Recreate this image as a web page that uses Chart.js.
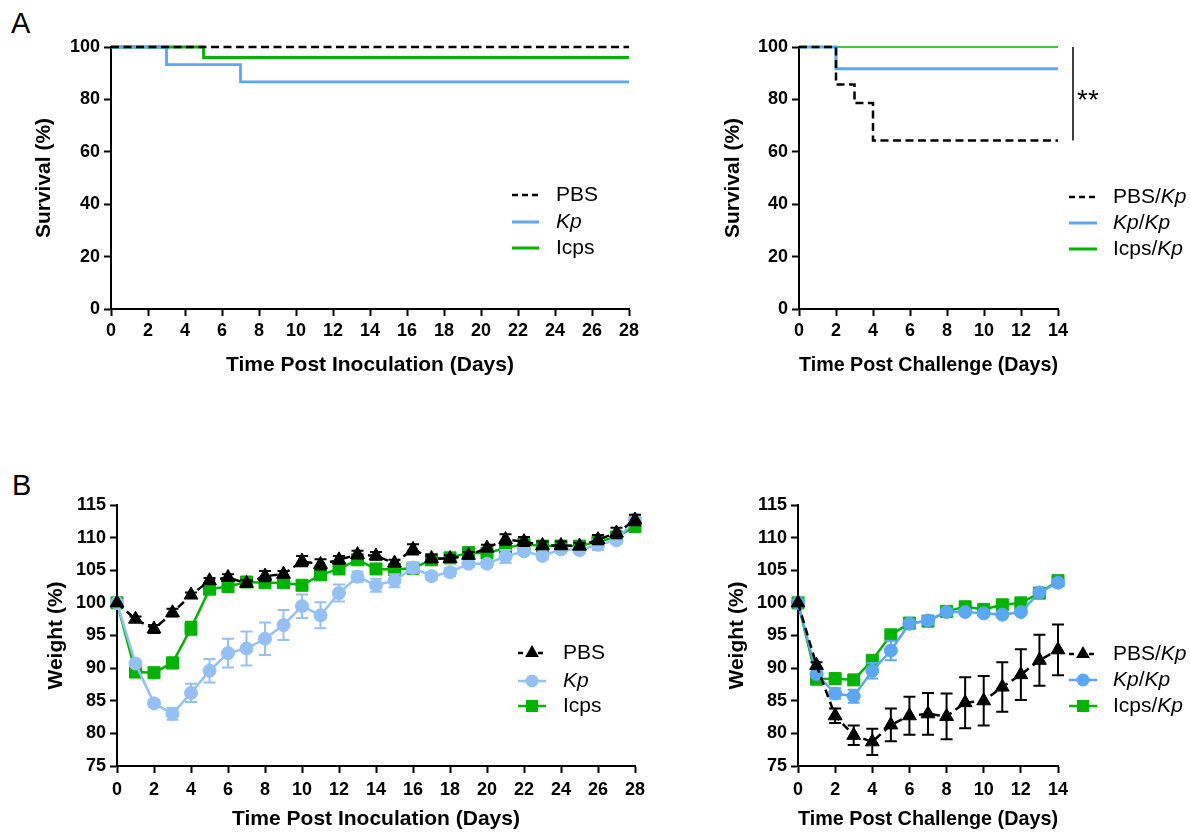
<!DOCTYPE html>
<html><head><meta charset="utf-8">
<script src="https://cdn.jsdelivr.net/npm/chart.js@4.4.1/dist/chart.umd.min.js"></script>
<style>
html,body{margin:0;padding:0;background:#fff;}
body{width:1190px;height:833px;overflow:hidden;position:relative;font-family:"Liberation Sans",Arial,Helvetica,sans-serif;}
canvas{position:absolute;}
.lbl{position:absolute;font-size:29px;line-height:29px;color:#000;}
</style></head><body>
<div class="lbl" style="left:11px;top:9px">A</div>
<div class="lbl" style="left:12px;top:471px">B</div>
<canvas id="cTL"></canvas>
<canvas id="cTR"></canvas>
<canvas id="cBL"></canvas>
<canvas id="cBR"></canvas>
<script>
// ---------- DATA ----------
// A, left: survival after inoculation (days, % survival)
const survDaysPBS = [0, 28];
const survPBS     = [100, 100];
const survDaysKp  = [0, 3, 7, 28];
const survKp      = [100, 93.3, 86.7, 86.7];
const survDaysIcps = [0, 5, 28];
const survIcps     = [100, 96, 96];
// A, right: survival after challenge
const chalDaysPBS = [0, 2, 3, 4, 14];
const chalPBS     = [100, 85.7, 78.6, 64.3, 64.3];
const chalDaysKp  = [0, 2, 14];
const chalKp      = [100, 91.7, 91.7];
const chalDaysIcps = [0, 14];
const chalIcps     = [100, 100];
const sigRange = [100, 64.3];
const sigLabel = '**';
// B, left: weight after inoculation
const inocDays = [0,1,2,3,4,5,6,7,8,9,10,11,12,13,14,15,16,17,18,19,20,21,22,23,24,25,26,27,28];
const wPBS    = [100,97.5,96.0,98.5,101.2,103.4,103.9,103.0,104.1,104.4,106.4,105.9,106.6,107.4,107.2,106.1,108.2,106.8,106.8,107.3,108.4,109.7,109.4,108.8,108.8,108.7,109.7,110.7,112.7];
const wPBSerr = [0,0.4,0.6,0.6,0.4,0.4,0.5,0.5,0.8,0.5,0.8,0.8,0.6,0.6,0.6,0.5,0.8,0.6,0.5,0.5,0.5,0.8,0.7,0.6,0.6,0.5,0.7,0.8,0.8];
const wKp     = [100,90.7,84.6,83.0,86.2,89.6,92.3,93.0,94.5,96.6,99.5,98.1,101.5,104.0,102.7,103.4,105.4,104.1,104.7,106.0,106.0,107.1,107.9,107.2,108.2,108.1,108.9,109.6,112.8];
const wKperr  = [0,0.4,0.5,0.9,1.4,1.8,2.2,2.6,2.5,2.3,1.8,2.0,1.3,0.8,1.0,1.0,0.8,0.6,0.6,0.5,0.5,1.0,0.5,0.5,0.5,0.5,0.8,0.5,0.5];
const wIcps   = [100,89.4,89.3,90.8,96.1,102.1,102.5,103.2,103.1,103.1,102.7,104.3,105.2,106.6,105.2,105.1,105.3,106.6,106.9,107.7,107.6,108.4,109.0,108.7,108.7,108.7,109.4,110.1,111.7];
const wIcpserr= [0,0.4,0.5,0.8,1.0,0.4,0.4,0.4,0.4,0.4,0.5,0.4,0.4,0.5,0.5,0.5,0.5,0.4,0.4,0.4,0.4,0.4,0.4,0.4,0.4,0.4,0.4,0.4,0.5];
// B, right: weight after challenge
const chalWDays = [0,1,2,3,4,5,6,7,8,9,10,11,12,13,14];
const cwPBS     = [100,90.4,82.7,79.7,78.7,81.3,82.7,83.0,82.6,84.7,85.0,87.1,89.0,91.2,92.8];
const cwPBSerr  = [0,0.5,1.1,1.5,2.0,2.5,2.9,3.2,3.5,3.9,3.8,3.8,3.9,3.9,3.9];
const cwKp      = [100,89.1,86.1,85.7,89.6,92.7,96.8,97.3,98.6,98.6,98.4,98.2,98.6,101.6,103.1];
const cwKperr   = [0,0.4,0.8,1.0,1.2,1.5,0.5,0.6,0.4,0.3,0.3,0.3,0.3,0.3,0.3];
const cwIcps    = [100,88.3,88.4,88.2,91.2,95.1,96.9,97.2,98.7,99.4,99.0,99.7,100.0,101.5,103.4];
const cwIcpserr = [0,0.4,0.5,0.5,0.6,0.5,0.4,0.4,0.4,0.3,0.3,0.3,0.3,0.3,0.3];

// ---------- STYLE ----------
const FONT = '"Liberation Sans", Arial, Helvetica, sans-serif';
const BLACK = '#000000';
const BLUE = '#5aa6f7';
const BLUE_LIGHT = '#93c0f6';
const GREEN = '#00b400';

function pts(xs, ys){ return xs.map((x,i)=>({x:x, y:ys[i]})); }

function drawMarker(ctx, type, x, y, color){
  ctx.save();
  ctx.fillStyle = color;
  ctx.beginPath();
  if (type === 'triangle'){
    const r = 8;
    ctx.moveTo(x, y - r);
    ctx.lineTo(x + r*Math.sin(2*Math.PI/3), y - r*Math.cos(2*Math.PI/3));
    ctx.lineTo(x - r*Math.sin(2*Math.PI/3), y - r*Math.cos(2*Math.PI/3));
    ctx.closePath();
  } else if (type === 'circle'){
    ctx.arc(x, y, 6.5, 0, Math.PI*2);
  } else if (type === 'rect'){
    ctx.rect(x-6, y-6, 12, 12);
  }
  ctx.fill();
  ctx.restore();
}

const errorBars = {
  id:'errorBars',
  beforeDatasetDraw(chart, args){
    const ds = chart.data.datasets[args.index];
    if(!ds.errors) return;
    const xs = chart.scales.x, ys = chart.scales.y, ctx = chart.ctx;
    ctx.save();
    ctx.strokeStyle = ds.borderColor;
    ctx.lineWidth = 2;
    ctx.setLineDash([]);
    ds.data.forEach((p,i)=>{
      const e = ds.errors[i]; if(!e) return;
      const px = xs.getPixelForValue(p.x);
      const y1 = ys.getPixelForValue(p.y + e), y2 = ys.getPixelForValue(p.y - e);
      ctx.beginPath();
      ctx.moveTo(px,y1); ctx.lineTo(px,y2);
      ctx.moveTo(px-6,y1); ctx.lineTo(px+6,y1);
      ctx.moveTo(px-6,y2); ctx.lineTo(px+6,y2);
      ctx.stroke();
    });
    ctx.restore();
  }
};

const EXTRAS = {};
const overlays = {
  id:'overlays',
  afterDraw(chart){
    const ex = EXTRAS[chart.canvas.id]; if(!ex) return;
    const ctx = chart.ctx;
    ctx.save();
    ctx.translate(-ex.left, -ex.top);
    const L = ex.legend;
    L.items.forEach((it,k)=>{
      const y = L.ys[k];
      ctx.strokeStyle = it.color; ctx.lineWidth = it.width;
      ctx.setLineDash(it.dash || []);
      ctx.beginPath(); ctx.moveTo(L.x0, y); ctx.lineTo(L.x1, y); ctx.stroke();
      ctx.setLineDash([]);
      if (it.marker) drawMarker(ctx, it.marker, (L.x0+L.x1)/2, y, it.color);
      let tx = L.tx;
      ctx.fillStyle = '#000'; ctx.textBaseline = 'middle'; ctx.textAlign = 'left';
      it.text.forEach(([s, ital])=>{
        ctx.font = (ital ? 'italic ' : '') + '21px ' + FONT;
        ctx.fillText(s, tx, y);
        tx += ctx.measureText(s).width;
      });
    });
    ctx.restore();
    if (ex.sig){
      const ys = chart.scales.y, ca = chart.chartArea;
      const sx = ca.right + 15;
      ctx.save();
      ctx.strokeStyle = '#000'; ctx.lineWidth = 1.5;
      ctx.beginPath();
      ctx.moveTo(sx, ys.getPixelForValue(ex.sig.range[0]));
      ctx.lineTo(sx, ys.getPixelForValue(ex.sig.range[1]));
      ctx.stroke();
      ctx.fillStyle = '#000'; ctx.font = '28px ' + FONT;
      ctx.textBaseline = 'alphabetic'; ctx.textAlign = 'left';
      const mid = ys.getPixelForValue((ex.sig.range[0]+ex.sig.range[1])/2);
      ctx.fillText(ex.sig.label, sx + 4, mid + 15);
      ctx.restore();
    }
  }
};

function makeChart(id, cfg){
  const el = document.getElementById(id);
  el.width = cfg.w; el.height = cfg.h;
  el.style.width = cfg.w + 'px'; el.style.height = cfg.h + 'px';
  el.style.left = cfg.left + 'px'; el.style.top = cfg.top + 'px';
  EXTRAS[id] = {left: cfg.left, top: cfg.top, legend: cfg.legend, sig: cfg.sig};
  const tickFont = {family: FONT, size: 18, weight: 'bold'};
  const titleFont = {family: FONT, size: 21, weight: 'bold'};
  const grid = {display:true, drawOnChartArea:false, drawTicks:true, tickLength:7, tickWidth:2, tickColor:'#000'};
  const border = {display:true, color:'#000', width:2};
  return new Chart(el, {
    type: 'line',
    data: {datasets: cfg.datasets},
    plugins: [errorBars, overlays],
    options: {
      responsive: false, animation: false, events: [],
      devicePixelRatio: 1,
      layout: {autoPadding: false, padding: {top: cfg.padTop, right: cfg.padRight, left: 0, bottom: 0}},
      plugins: {legend: {display: false}, tooltip: {enabled: false}},
      scales: {
        x: {
          type: 'linear', min: 0, max: cfg.xMax,
          ticks: {stepSize: 2, autoSkip: false, maxRotation: 0, color: '#000', font: tickFont, padding: cfg.xTickPad},
          grid: grid, border: border,
          title: {display: true, text: cfg.xTitle, color: '#000', font: titleFont, padding: {top: 0, bottom: cfg.xTitlePad}},
          afterFit(s){ s.height = cfg.xh; }
        },
        y: {
          type: 'linear', min: cfg.yMin, max: cfg.yMax,
          ticks: {stepSize: cfg.yStep, color: '#000', font: tickFont, padding: 4},
          grid: grid, border: border,
          title: {display: true, text: cfg.yTitle, color: '#000', font: titleFont, padding: {top: cfg.yTitlePad, bottom: 0}},
          afterFit(s){ s.width = cfg.yw; }
        }
      }
    }
  });
}

function survSet(label, xs, ys, color, width, dash){
  return {label, data: pts(xs, ys), borderColor: color, backgroundColor: color, borderWidth: width,
          borderDash: dash || [], stepped: 'before', pointRadius: 0, fill: false, clip: false};
}
function weightSet(label, xs, ys, errs, color, style, radius, dash){
  return {label, data: pts(xs, ys), errors: errs, borderColor: color, backgroundColor: color,
          borderWidth: 2.5, borderDash: dash || [], pointStyle: style, pointRadius: radius,
          pointBackgroundColor: color, pointBorderColor: color, pointBorderWidth: 1, fill: false, clip: false};
}

// Panel A left
makeChart('cTL', {
  left: 0, top: 0, w: 649, h: 379, yw: 111, xh: 70, padTop: 47, padRight: 20,
  xMax: 28, yMin: 0, yMax: 100, yStep: 20, xTickPad: 4, xTitlePad: 1.4, yTitlePad: 31.4,
  xTitle: 'Time Post Inoculation (Days)', yTitle: 'Survival (%)',
  datasets: [
    survSet('PBS', survDaysPBS, survPBS, BLACK, 2.5, [8,4.5]),
    survSet('Kp', survDaysKp, survKp, BLUE, 2.8),
    survSet('Icps', survDaysIcps, survIcps, GREEN, 2.8)
  ],
  legend: {x0: 512, x1: 539, tx: 556, ys: [195, 222, 248], items: [
    {color: BLACK, width: 2.5, dash: [6,4], text: [['PBS', false]]},
    {color: BLUE, width: 3, text: [['Kp', true]]},
    {color: GREEN, width: 3, text: [['Icps', false]]}
  ]}
});

// Panel A right
makeChart('cTR', {
  left: 688, top: 0, w: 502, h: 379, yw: 111, xh: 70, padTop: 47, padRight: 132,
  xMax: 14, yMin: 0, yMax: 100, yStep: 20, xTickPad: 4, xTitlePad: 1.4, yTitlePad: 32.4,
  xTitle: 'Time Post Challenge (Days)', yTitle: 'Survival (%)',
  datasets: [
    survSet('PBS/Kp', chalDaysPBS, chalPBS, BLACK, 2.5, [8,4.5]),
    survSet('Kp/Kp', chalDaysKp, chalKp, BLUE, 3),
    survSet('Icps/Kp', chalDaysIcps, chalIcps, GREEN, 1.5)
  ],
  legend: {x0: 1069, x1: 1097, tx: 1113, ys: [197, 223, 249], items: [
    {color: BLACK, width: 2.5, dash: [6,4], text: [['PBS/', false], ['Kp', true]]},
    {color: BLUE, width: 3, text: [['Kp', true], ['/', false], ['Kp', true]]},
    {color: GREEN, width: 3, text: [['Icps/', false], ['Kp', true]]}
  ]},
  sig: {range: sigRange, label: sigLabel}
});

// Panel B left
makeChart('cBL', {
  left: 6, top: 460, w: 659, h: 373, yw: 111, xh: 67, padTop: 45, padRight: 30,
  xMax: 28, yMin: 75, yMax: 115, yStep: 5, xTickPad: 6, xTitlePad: 1.4, yTitlePad: 37.4,
  xTitle: 'Time Post Inoculation (Days)', yTitle: 'Weight (%)',
  datasets: [
    weightSet('PBS', inocDays, wPBS, wPBSerr, BLACK, 'triangle', 8, [8,5]),
    weightSet('Kp', inocDays, wKp, wKperr, BLUE_LIGHT, 'circle', 6.5),
    weightSet('Icps', inocDays, wIcps, wIcpserr, GREEN, 'rect', 8.5)
  ],
  legend: {x0: 518, x1: 546, tx: 563, ys: [653, 681, 706], items: [
    {color: BLACK, width: 2.5, dash: [5,5], marker: 'triangle', text: [['PBS', false]]},
    {color: BLUE_LIGHT, width: 2.5, marker: 'circle', text: [['Kp', true]]},
    {color: GREEN, width: 2.5, marker: 'rect', text: [['Icps', false]]}
  ]}
});

// Panel B right
makeChart('cBR', {
  left: 687, top: 460, w: 503, h: 373, yw: 111, xh: 67, padTop: 45, padRight: 132,
  xMax: 14, yMin: 75, yMax: 115, yStep: 5, xTickPad: 6, xTitlePad: 1.4, yTitlePad: 37.4,
  xTitle: 'Time Post Challenge (Days)', yTitle: 'Weight (%)',
  datasets: [
    weightSet('PBS/Kp', chalWDays, cwPBS, cwPBSerr, BLACK, 'triangle', 8, [8,5]),
    weightSet('Kp/Kp', chalWDays, cwKp, cwKperr, BLUE, 'circle', 6.5),
    weightSet('Icps/Kp', chalWDays, cwIcps, cwIcpserr, GREEN, 'rect', 8.5)
  ],
  legend: {x0: 1069, x1: 1097, tx: 1113, ys: [654, 680, 706], items: [
    {color: BLACK, width: 2.5, dash: [5,5], marker: 'triangle', text: [['PBS/', false], ['Kp', true]]},
    {color: BLUE, width: 2.5, marker: 'circle', text: [['Kp', true], ['/', false], ['Kp', true]]},
    {color: GREEN, width: 2.5, marker: 'rect', text: [['Icps/', false], ['Kp', true]]}
  ]}
});
</script>
</body></html>
